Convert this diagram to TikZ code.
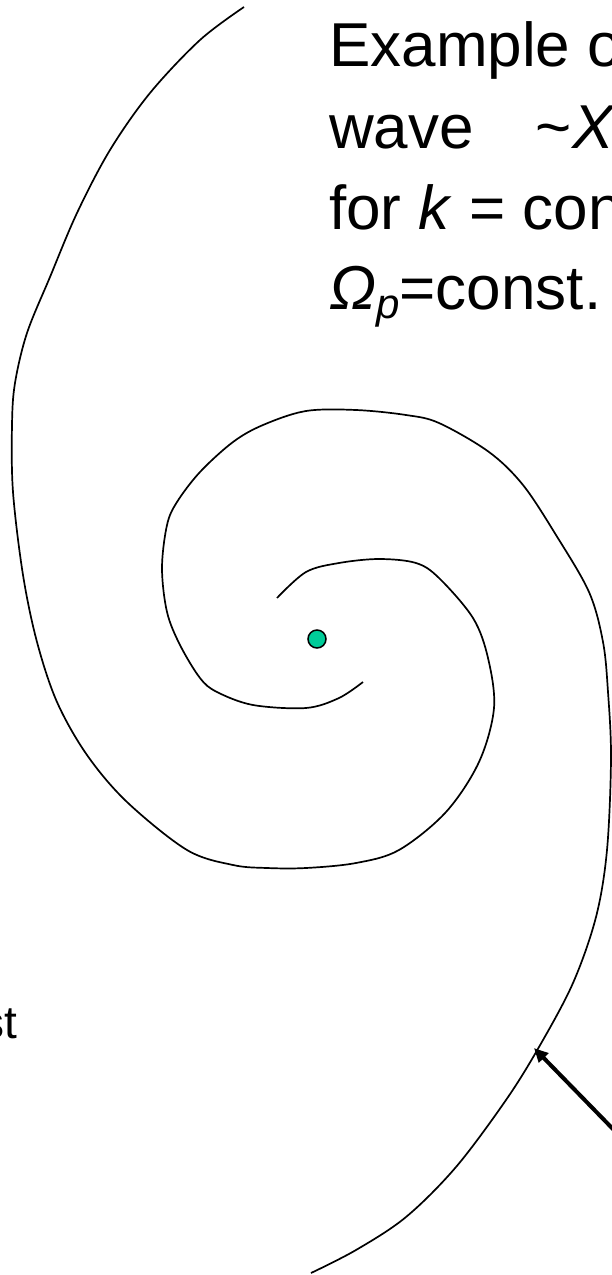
\documentclass[tikz,border=0pt]{standalone}
\usepackage{fontspec}
\setmainfont{Liberation Sans}
\usetikzlibrary{arrows.meta}
\definecolor{dotgreen}{RGB}{0,204,153}

\begin{document}
\begin{tikzpicture}[x=1pt, y=-1pt, every node/.style={inner sep=0pt},
  arm/.style={line width=1.7pt, line join=round},
  big/.style={font=\fontsize{62}{74}\selectfont, anchor=base west}]
  \useasboundingbox (0,0) rectangle (612,1275);
  % arm from the centre out to the top
  \draw[arm] plot[smooth, tension=0.55] coordinates {(277,598) (306,572) (339,563) (379,559) (416,563) (439,578) (473,618) (488,658) (494,708) (479,762) (446,812) (399,850) (356,863) (306,868) (267,868) (233,865) (187,850) (127,802) (87,755) (57,702) (37,642) (23,575) (13,492) (12,425) (15,383) (27,333) (50,277) (77,213) (110,150) (150,93) (200,40) (244,7)};
  % arm from the centre out to the bottom
  \draw[arm] plot[smooth, tension=0.55] coordinates {(363,682) (339,698) (306,708) (253,705) (217,692) (200,678) (180,645) (167,612) (162,568) (167,525) (177,502) (200,472) (233,442) (263,425) (306,411) (356,410) (406,415) (439,423) (489,452) (523,485) (556,535) (589,592) (603,642) (608,692) (611,758) (607,850) (596,917) (573,983) (539,1047) (506,1100) (456,1167) (406,1217) (356,1250) (311,1273)};
  \node[circle, draw, line width=1.5pt, fill=dotgreen, minimum size=18pt] (centre) at (317,639) {};
  \node[big] (line1) at (329,66) {Example o};
  \node[big] (line2) at (329,148) {wave\hspace{62pt}\textasciitilde\textit{X}};
  \node[big] (line3) at (329,229) {for \textit{k} = con};
  \node[big] (line4) at (329,309) {\textit{Ω}\raisebox{-9pt}{\fontsize{42}{42}\selectfont\textit{p}}=const.};
  \node[font=\fontsize{46}{55}\selectfont, anchor=base east] (cut) at (17,1038) {st};
  \coordinate (tail) at (650,1167);
  \coordinate (tip) at (534,1048);
  \draw[line width=4pt, -{Triangle[length=14pt, width=13pt]}] (tail) -- (tip);
\end{tikzpicture}
\end{document}
